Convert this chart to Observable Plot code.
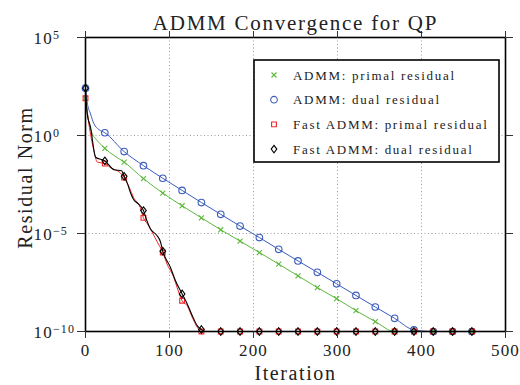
<!DOCTYPE html>
<html>
<head>
<meta charset="utf-8">
<script src="https://cdn.jsdelivr.net/npm/d3@7"></script>
<script src="https://cdn.jsdelivr.net/npm/@observablehq/plot@0.6"></script>
<style>
  html, body { margin: 0; padding: 0; background: #fff; }
  svg { display: block; }
  .xt text { letter-spacing: 1.2px; }
  .ytl text { letter-spacing: 1.2px; }
  .ttl text { letter-spacing: 1.75px; }
  .axl text { letter-spacing: 1.6px; }
  .leg text { letter-spacing: 1.7px; }
</style>
</head>
<body>
<div id="chart"></div>
<script>
// ---------------- data ----------------
const title = "ADMM Convergence for QP";
const xLabel = "Iteration";
const yLabel = "Residual Norm";
const xTicks = [0, 100, 200, 300, 400, 500];
const xGrid = [100, 200, 300, 400];
const yTicks = [1e-10, 1e-5, 1e0, 1e5];
const yGrid = [1e-5, 1e0];
const yTickBase = "10";
const yTickExp = ["−10", "−5", "0", "5"];

// iterations where markers are drawn
const markerIter = [0, 23, 46, 69, 92, 115, 138, 161, 184, 207, 230, 253, 276, 299, 322, 345, 368, 391, 414, 437, 460];

const legendLabels = [
  "ADMM: primal residual",
  "ADMM: dual residual",
  "Fast ADMM: primal residual",
  "Fast ADMM: dual residual"
];

// ADMM primal residual
const admmPrimalIter = [0, 4, 8, 12, 16, 23, 34, 46, 69, 92, 115, 138, 161, 184, 207, 230, 253, 276, 299, 322, 345, 368, 391, 414, 437, 460];
const admmPrimalVal  = [7.9e1, 5.0, 1.26, 6.8e-1, 4.4e-1, 2.2e-1, 9.5e-2, 4.4e-2, 6.3e-3, 1.15e-3, 2.6e-4, 6.3e-5, 1.55e-5, 4.1e-6, 1.07e-6, 2.75e-7, 6.9e-8, 1.74e-8, 4.7e-9, 1.17e-9, 3.2e-10, 1e-10, 1e-10, 1e-10, 1e-10, 1e-10];

// ADMM dual residual
const admmDualIter = [0, 2, 6, 10, 16, 23, 46, 69, 92, 115, 138, 161, 184, 207, 230, 253, 276, 299, 322, 345, 368, 391, 414, 437, 460];
const admmDualVal  = [2.6e2, 5.0e1, 1.26e1, 4.0, 2.0, 1.38, 1.51e-1, 2.9e-2, 6.6e-3, 1.58e-3, 3.8e-4, 9.5e-5, 2.4e-5, 6.2e-6, 1.55e-6, 4.0e-7, 1.05e-7, 2.7e-8, 6.9e-9, 1.78e-9, 4.7e-10, 1.2e-10, 1e-10, 1e-10, 1e-10];

// Fast ADMM primal residual
const fastPrimalIter = [0, 4, 10, 14, 23, 31, 40, 46, 52, 57, 65, 69, 75, 79, 85, 92, 97, 105, 109, 115, 121, 127, 133, 138, 161, 184, 207, 230, 253, 276, 299, 322, 345, 368, 391, 414, 437, 460];
const fastPrimalVal  = [7.9e1, 4.0, 1.7e-1, 4.4e-2, 3.7e-2, 2.1e-2, 1.4e-2, 7.1e-3, 2.3e-3, 7.1e-4, 2.2e-4, 6.3e-5, 2.6e-5, 1.26e-5, 4.0e-6, 1.07e-6, 2.8e-7, 5.9e-8, 1.8e-8, 3.7e-9, 2.1e-9, 5.4e-10, 1.66e-10, 1e-10, 1e-10, 1e-10, 1e-10, 1e-10, 1e-10, 1e-10, 1e-10, 1e-10, 1e-10, 1e-10, 1e-10, 1e-10, 1e-10, 1e-10];

// Fast ADMM dual residual
const fastDualIter = [0, 2, 6, 12, 23, 34, 43, 46, 50, 54, 58, 62, 69, 73, 77, 85, 89, 92, 101, 107, 115, 121, 127, 133, 138, 142, 161, 184, 207, 230, 253, 276, 299, 322, 345, 368, 391, 414, 437, 460];
const fastDualVal  = [2.6e2, 1.3e1, 2.6, 7.8e-2, 5.1e-2, 1.8e-2, 1.6e-2, 8.3e-3, 3.5e-3, 1.07e-3, 4.8e-4, 3.5e-4, 1.48e-4, 4.6e-5, 1.8e-5, 7.9e-6, 4.0e-6, 1.26e-6, 1.9e-7, 4.0e-8, 8.3e-9, 2.6e-9, 6.6e-10, 2.0e-10, 1.26e-10, 1e-10, 1e-10, 1e-10, 1e-10, 1e-10, 1e-10, 1e-10, 1e-10, 1e-10, 1e-10, 1e-10, 1e-10, 1e-10, 1e-10, 1e-10];

// ---------------- styling ----------------
const FONT = "'Liberation Serif', 'DejaVu Serif', serif";
const diamondSym = {
  draw(ctx, size) {
    const h = Math.sqrt(size / 1.5), w = h * 0.75;
    ctx.moveTo(0, -h); ctx.lineTo(w, 0); ctx.lineTo(0, h); ctx.lineTo(-w, 0); ctx.closePath();
  }
};
const series = [
  {iter: admmPrimalIter, val: admmPrimalVal, color: "#5cb83a", symbol: "times", r: 2.4, lw: 1},
  {iter: admmDualIter, val: admmDualVal, color: "#3a5cbc", symbol: "circle", r: 3.3, lw: 1},
  {iter: fastPrimalIter, val: fastPrimalVal, color: "#f02828", symbol: "square", r: 2.7, lw: 1},
  {iter: fastDualIter, val: fastDualVal, color: "#000000", symbol: diamondSym, r: 2.6, lw: 1.1}
];

const marks = [];
marks.push(Plot.gridX(xGrid, {stroke: "#9a9a9a", strokeOpacity: 1, strokeDasharray: "1,2.5"}));
marks.push(Plot.gridY(yGrid, {stroke: "#9a9a9a", strokeOpacity: 1, strokeDasharray: "1,2.5"}));

for (const s of series) {
  const pts = s.iter.map((it, i) => ({it, v: s.val[i]}));
  const mk = pts.filter(p => markerIter.includes(p.it));
  marks.push(Plot.line(pts, {x: "it", y: "v", stroke: s.color, strokeWidth: s.lw, curve: "monotone-x"}));
  marks.push(Plot.dot(mk, {x: "it", y: "v", stroke: s.color, fill: "none", symbol: s.symbol, r: s.r, strokeWidth: 1.1}));
}

marks.push(Plot.frame({stroke: "#000", strokeWidth: 1.6}));
marks.push(Plot.axisX(xTicks, {anchor: "bottom", tickSize: 7, tickPadding: 5, fontSize: 17, label: null, stroke: "#333", className: "xt", tickFormat: d => String(d)}));
marks.push(Plot.axisX(xTicks, {anchor: "top", tickSize: 7, label: null, stroke: "#333", tickFormat: () => ""}));
marks.push(Plot.axisY(yTicks, {anchor: "left", tickSize: 8, label: null, stroke: "#333", tickFormat: () => ""}));
marks.push(Plot.axisY(yTicks, {anchor: "right", tickSize: 7, label: null, stroke: "#333", tickFormat: () => ""}));
marks.push(Plot.text(yTicks, {y: d => d, frameAnchor: "left", dx: -52, dy: 1, textAnchor: "start", fontSize: 17, fill: "#222", className: "ytl",
  text: (d, i) => yTickBase + "^" + yTickExp[i]}));
marks.push(Plot.text([title], {frameAnchor: "top", dy: -22, fontSize: 21, fill: "#222", textAnchor: "middle", className: "ttl"}));
marks.push(Plot.text([xLabel], {frameAnchor: "bottom", dy: 48, fontSize: 20, fill: "#222", textAnchor: "middle", className: "axl"}));
marks.push(Plot.text([yLabel], {frameAnchor: "left", dx: -60, dy: -7, rotate: -90, fontSize: 20, fill: "#222", textAnchor: "middle", className: "axl"}));

const chart = Plot.plot({
  width: 520,
  height: 385,
  marginLeft: 85,
  marginRight: 15,
  marginTop: 37,
  marginBottom: 54,
  style: {fontFamily: FONT, background: "#fff", color: "#222"},
  x: {domain: [0, 500]},
  y: {type: "log", domain: [1e-10, 1e5]},
  marks
});
document.getElementById("chart").appendChild(chart);

// superscript exponents on y tick labels
const svg = d3.select(chart);
svg.selectAll("g.ytl text").each(function() {
  const t = d3.select(this);
  const [b, e] = t.text().split("^");
  t.text("");
  t.append("tspan").text(b);
  t.append("tspan").attr("dy", "-0.45em").attr("font-size", 12).text(e);
});

// legend
const leg = svg.append("g").attr("class", "leg").attr("font-family", FONT);
const lx = 254, ly = 60, lw = 245, lh = 102;
leg.append("rect").attr("x", lx).attr("y", ly).attr("width", lw).attr("height", lh)
  .attr("fill", "#fff").attr("stroke", "#000").attr("stroke-width", 1.6);
const symMap = {times: d3.symbolTimes, circle: d3.symbolCircle, square: d3.symbolSquare};
legendLabels.forEach((lab, i) => {
  const s = series[i];
  const cy = ly + 15 + i * 24.7;
  const symType = typeof s.symbol === "string" ? symMap[s.symbol] : s.symbol;
  leg.append("path")
    .attr("d", d3.symbol(symType, Math.PI * s.r * s.r)())
    .attr("transform", `translate(${lx + 20},${cy})`)
    .attr("fill", "none").attr("stroke", s.color).attr("stroke-width", 1.1);
  leg.append("text").attr("x", lx + 39).attr("y", cy).attr("dy", "0.35em")
    .attr("text-anchor", "start")
    .attr("font-size", 13).attr("fill", "#222").text(lab);
});
</script>
</body>
</html>
